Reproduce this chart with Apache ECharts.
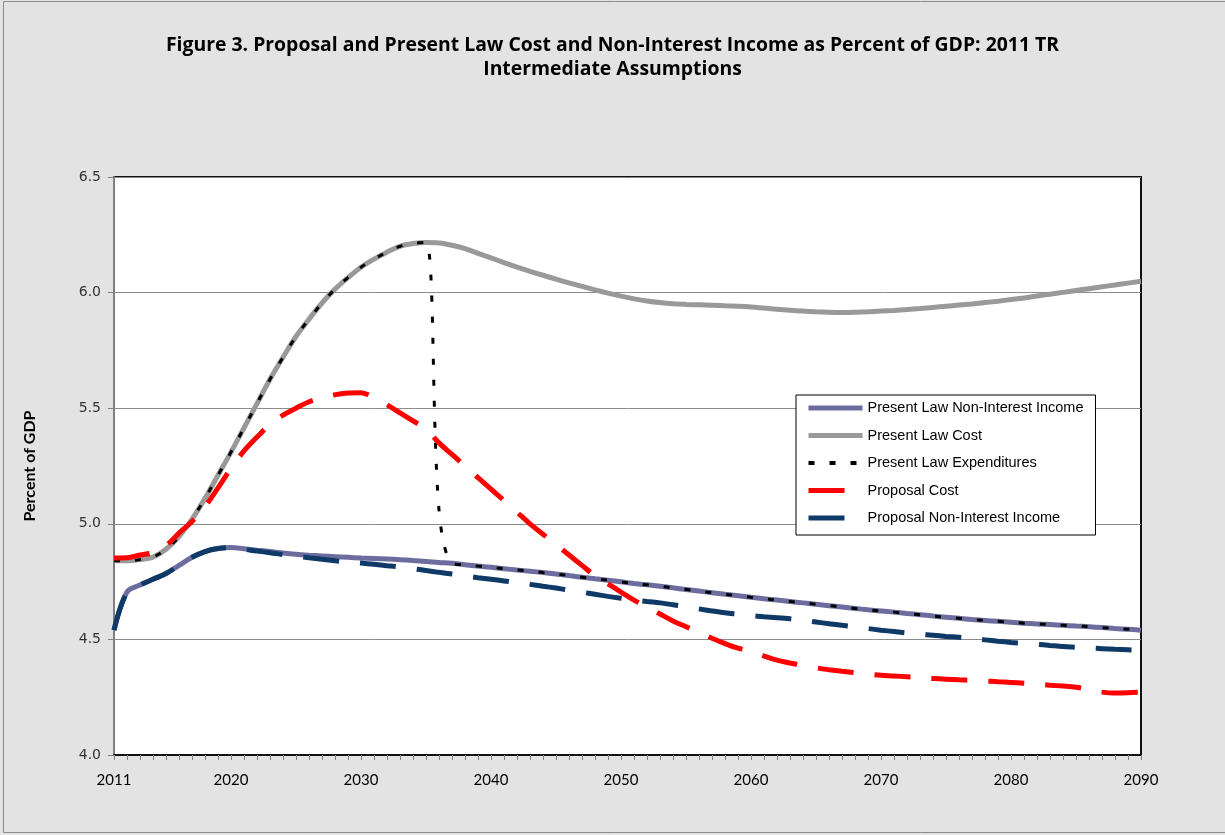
<!DOCTYPE html>
<html>
<head>
<meta charset="utf-8">
<script src="https://cdn.jsdelivr.net/npm/echarts@6/dist/echarts.min.js"></script>
<style>
  html, body { margin: 0; padding: 0; background: #e3e3e3; }
  #chart { width: 1225px; height: 835px; }
</style>
</head>
<body>
<div id="chart"></div>
<script>
// years 2011..2090
var years = [];
for (var y = 2011; y <= 2090; y++) years.push(String(y));

// Present Law Non-Interest Income
var lawIncome = [
  4.54, 4.705, 4.735, 4.76, 4.785, 4.82, 4.855, 4.88, 4.893, 4.897,
  4.892, 4.886, 4.88, 4.874, 4.868, 4.864, 4.861, 4.858, 4.855, 4.852,
  4.85, 4.848, 4.845, 4.841, 4.837, 4.833, 4.829, 4.823, 4.817, 4.812,
  4.806, 4.8, 4.795, 4.789, 4.783, 4.776, 4.769, 4.762, 4.756, 4.749,
  4.742, 4.736, 4.73, 4.723, 4.716, 4.709, 4.702, 4.695, 4.689, 4.682,
  4.676, 4.67, 4.664, 4.658, 4.652, 4.646, 4.64, 4.634, 4.628, 4.623,
  4.618, 4.612, 4.607, 4.601, 4.596, 4.591, 4.586, 4.582, 4.578, 4.574,
  4.57, 4.567, 4.564, 4.561, 4.558, 4.555, 4.551, 4.547, 4.544, 4.54
];

// Present Law Cost
var lawCost = [
  4.84, 4.84, 4.845, 4.856, 4.89, 4.945, 5.02, 5.11, 5.21, 5.31,
  5.415, 5.52, 5.625, 5.72, 5.81, 5.885, 5.955, 6.015, 6.065, 6.11,
  6.145, 6.175, 6.2, 6.212, 6.217, 6.215, 6.205, 6.19, 6.17, 6.15,
  6.13, 6.11, 6.092, 6.075, 6.058, 6.042, 6.027, 6.012, 5.998, 5.985,
  5.973, 5.964, 5.957, 5.952, 5.949, 5.947, 5.945, 5.943, 5.941, 5.938,
  5.933, 5.928, 5.924, 5.92, 5.917, 5.915, 5.914, 5.915, 5.917, 5.92,
  5.923, 5.927, 5.931, 5.936, 5.941, 5.946, 5.951, 5.957, 5.963, 5.97,
  5.977, 5.985, 5.993, 6.001, 6.009, 6.017, 6.025, 6.033, 6.041, 6.049
];

// Present Law Expenditures (cost until trust fund depletion, then income)
var lawExpend = [
  4.84, 4.84, 4.845, 4.856, 4.89, 4.945, 5.02, 5.11, 5.21, 5.31,
  5.415, 5.52, 5.625, 5.72, 5.81, 5.885, 5.955, 6.015, 6.065, 6.11,
  6.145, 6.175, 6.2, 6.212, 6.217, 5.06, 4.829, 4.823, 4.817, 4.812,
  4.806, 4.8, 4.795, 4.789, 4.783, 4.776, 4.769, 4.762, 4.756, 4.749,
  4.742, 4.736, 4.73, 4.723, 4.716, 4.709, 4.702, 4.695, 4.689, 4.682,
  4.676, 4.67, 4.664, 4.658, 4.652, 4.646, 4.64, 4.634, 4.628, 4.623,
  4.618, 4.612, 4.607, 4.601, 4.596, 4.591, 4.586, 4.582, 4.578, 4.574,
  4.57, 4.567, 4.564, 4.561, 4.558, 4.555, 4.551, 4.547, 4.544, 4.54
];

// Proposal Cost
var propCost = [
  4.852, 4.853, 4.865, 4.876, 4.905, 4.96, 5.01, 5.075, 5.155, 5.24,
  5.315, 5.375, 5.43, 5.47, 5.5, 5.528, 5.545, 5.558, 5.566, 5.567,
  5.545, 5.515, 5.48, 5.445, 5.41, 5.35, 5.30, 5.25, 5.2, 5.15,
  5.10, 5.05, 5.0, 4.955, 4.91, 4.865, 4.82, 4.775, 4.74, 4.705,
  4.67, 4.64, 4.61, 4.58, 4.555, 4.53, 4.505, 4.482, 4.462, 4.448,
  4.428, 4.41, 4.398, 4.387, 4.377, 4.369, 4.362, 4.356, 4.35, 4.345,
  4.342, 4.338, 4.334, 4.331, 4.328, 4.325, 4.323, 4.32, 4.317, 4.314,
  4.31, 4.306, 4.302, 4.298, 4.293, 4.283, 4.272, 4.268, 4.269, 4.272
];

// Proposal Non-Interest Income
var propIncome = [
  4.54, 4.705, 4.735, 4.76, 4.785, 4.82, 4.855, 4.88, 4.893, 4.897,
  4.89, 4.882, 4.875, 4.867, 4.86, 4.853, 4.847, 4.84, 4.834, 4.83,
  4.825, 4.819, 4.813, 4.806, 4.798, 4.79, 4.783, 4.775, 4.767, 4.76,
  4.753, 4.745, 4.738, 4.73, 4.722, 4.713, 4.704, 4.695, 4.686, 4.678,
  4.671, 4.664, 4.658, 4.65, 4.641, 4.632, 4.623, 4.615, 4.609, 4.603,
  4.598, 4.594, 4.589, 4.582, 4.575, 4.568, 4.561, 4.554, 4.547, 4.54,
  4.534, 4.528, 4.523, 4.518, 4.513, 4.509, 4.504, 4.498, 4.492, 4.487,
  4.483, 4.479, 4.474, 4.469, 4.466, 4.463, 4.46, 4.457, 4.455, 4.453
];

var chart = echarts.init(document.getElementById('chart'));

function line(name, data, color, width, dash, z) {
  return {
    name: name,
    type: 'line',
    data: data,
    symbol: 'none',
    smooth: 0.35,
    z: z,
    lineStyle: { color: color, width: width, type: dash, cap: 'butt' },
    itemStyle: { color: color },
    emphasis: { disabled: true }
  };
}

chart.setOption({
  backgroundColor: '#e3e3e3',
  animation: false,
  title: {
    text: 'Figure 3. Proposal and Present Law Cost and Non-Interest Income as Percent of GDP: 2011 TR\nIntermediate Assumptions',
    left: 'center',
    top: 28,
    textStyle: {
      fontFamily: 'Open Sans',
      fontWeight: 'bold',
      fontSize: 19.4,
      lineHeight: 24,
      color: '#000'
    }
  },
  graphic: [{
    type: 'rect',
    shape: { x: 3.5, y: 1.5, width: 1230, height: 831 },
    style: { fill: 'none', stroke: '#8c8c8c', lineWidth: 1 },
    silent: true
  }],
  legend: {
    orient: 'vertical',
    left: 796,
    top: 395,
    padding: [5, 12, 9, 10],
    itemWidth: 54,
    itemHeight: 16,
    itemGap: 11.5,
    backgroundColor: '#fff',
    borderColor: '#000',
    borderWidth: 1,
    borderRadius: 0,
    selectedMode: false,
    itemStyle: { opacity: 0 },
    textStyle: { fontFamily: 'Liberation Sans', fontSize: 14.5, lineHeight: 16, color: '#000' },
    data: [
      { name: 'Present Law Non-Interest Income', lineStyle: { width: 5 } },
      { name: 'Present Law Cost', lineStyle: { width: 5 } },
      { name: 'Present Law Expenditures', lineStyle: { width: 4 } },
      { name: 'Proposal Cost', lineStyle: { width: 5 } },
      { name: 'Proposal Non-Interest Income', lineStyle: { width: 5 } }
    ]
  },
  grid: {
    left: 114,
    right: 84,
    top: 177,
    bottom: 80,
    show: true,
    backgroundColor: '#fff',
    borderColor: '#111',
    borderWidth: 2
  },
  xAxis: {
    type: 'category',
    data: years,
    boundaryGap: false,
    axisLine: { lineStyle: { color: '#111', width: 2 } },
    axisTick: {
      interval: 0,
      length: 5,
      lineStyle: { color: '#808080' }
    },
    axisLabel: {
      interval: function (idx, val) { return idx === 0 || Number(val) % 10 === 0; },
      margin: 18,
      fontFamily: 'Lato',
      fontSize: 15,
      color: '#000'
    },
    splitLine: { show: false }
  },
  yAxis: {
    type: 'value',
    min: 4,
    max: 6.5,
    interval: 0.5,
    name: 'Percent of GDP',
    nameLocation: 'middle',
    nameGap: 76,
    nameTextStyle: {
      fontFamily: 'Lato',
      fontWeight: 'bold',
      fontSize: 16,
      color: '#000'
    },
    axisLine: { show: true, lineStyle: { color: '#808080', width: 2 } },
    axisTick: { show: true, length: 6, lineStyle: { color: '#808080' } },
    axisLabel: {
      formatter: function (v) { return v.toFixed(1); },
      margin: 13,
      fontFamily: 'DejaVu Sans',
      fontSize: 14,
      color: '#333'
    },
    splitLine: { lineStyle: { color: '#8c8c8c', width: 1 } }
  },
  series: [
    line('Present Law Non-Interest Income', lawIncome, '#6c6c9e', 5, 'solid', 2),
    line('Present Law Cost', lawCost, '#999999', 5, 'solid', 3),
    line('Present Law Expenditures', lawExpend, '#000000', 3, [6, 15], 4),
    line('Proposal Cost', propCost, '#ff0000', 5, [36, 21], 5),
    line('Proposal Non-Interest Income', propIncome, '#0f3967', 5, [36, 21], 6)
  ]
});
</script>
</body>
</html>
